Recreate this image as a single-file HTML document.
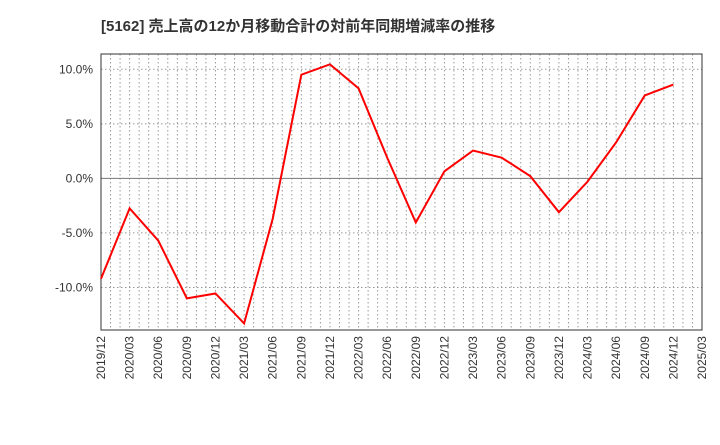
<!DOCTYPE html>
<html><head><meta charset="utf-8"><style>
body{margin:0;background:#fff;font-family:"Liberation Sans","Noto Sans CJK JP",sans-serif;}
</style></head><body>
<svg id="c" width="720" height="440" xmlns="http://www.w3.org/2000/svg">
<text x="101" y="31" font-size="15" font-weight="bold" fill="#333">[5162]  売上高の12か月移動合計の対前年同期増減率の推移</text>
</svg>
<script>
const categories=["2019/12","2020/03","2020/06","2020/09","2020/12","2021/03","2021/06","2021/09","2021/12","2022/03","2022/06","2022/09","2022/12","2023/03","2023/06","2023/09","2023/12","2024/03","2024/06","2024/09","2024/12","2025/03"];
const values=[-9.2,-2.75,-5.7,-11.0,-10.55,-13.3,-3.7,9.5,10.45,8.25,1.9,-4.05,0.65,2.55,1.9,0.2,-3.1,-0.3,3.3,7.6,8.6];
const yTicks=[10,5,0,-5,-10];
const yTickLabels=["10.0%","5.0%","0.0%","-5.0%","-10.0%"];
const L=101,R=702,T=54,B=330,yMax=11.4,yMin=-13.9;
const svg=document.getElementById('c');const NS="http://www.w3.org/2000/svg";
const xs=i=>L+(R-L)*i/(categories.length-1);
const ys=v=>T+(yMax-v)/(yMax-yMin)*(B-T);
function mk(t,a,p){const e=document.createElementNS(NS,t);for(const k in a)e.setAttribute(k,a[k]);(p||svg).appendChild(e);return e;}
const g=mk('g',{});


const nm=(categories.length-1)*3;
for(let m=1;m<nm;m++){const x=L+(R-L)*m/nm;const l=mk('line',{x1:x,x2:x,y1:T,y2:B,stroke:'#999','stroke-dasharray':'1.5,2.5','stroke-width':1},g);

}
yTicks.forEach((v,i)=>{const y=ys(v);const l=mk('line',{x1:L,x2:R,y1:y,y2:y,stroke:v===0?'#777':'#999','stroke-dasharray':v===0?'':'1.5,2.5','stroke-width':1},g);


const t=mk('text',{x:L-8,y:y+4,'text-anchor':'end','font-size':12,fill:'#333'});t.textContent=yTickLabels[i];

});
categories.forEach((c,i)=>{const x=xs(i);const t=mk('text',{x:0,y:0,transform:`translate(${x+4},${B+6}) rotate(-90)`,'text-anchor':'end','font-size':12,fill:'#333'});t.textContent=c;

});
const f=mk('rect',{x:L,y:T,width:R-L,height:B-T,fill:'none',stroke:'#333','stroke-width':1});


const p=mk('polyline',{points:values.map((v,i)=>xs(i)+','+ys(v)).join(' '),fill:'none',stroke:'#f00','stroke-width':2});


</script>
</body></html>
